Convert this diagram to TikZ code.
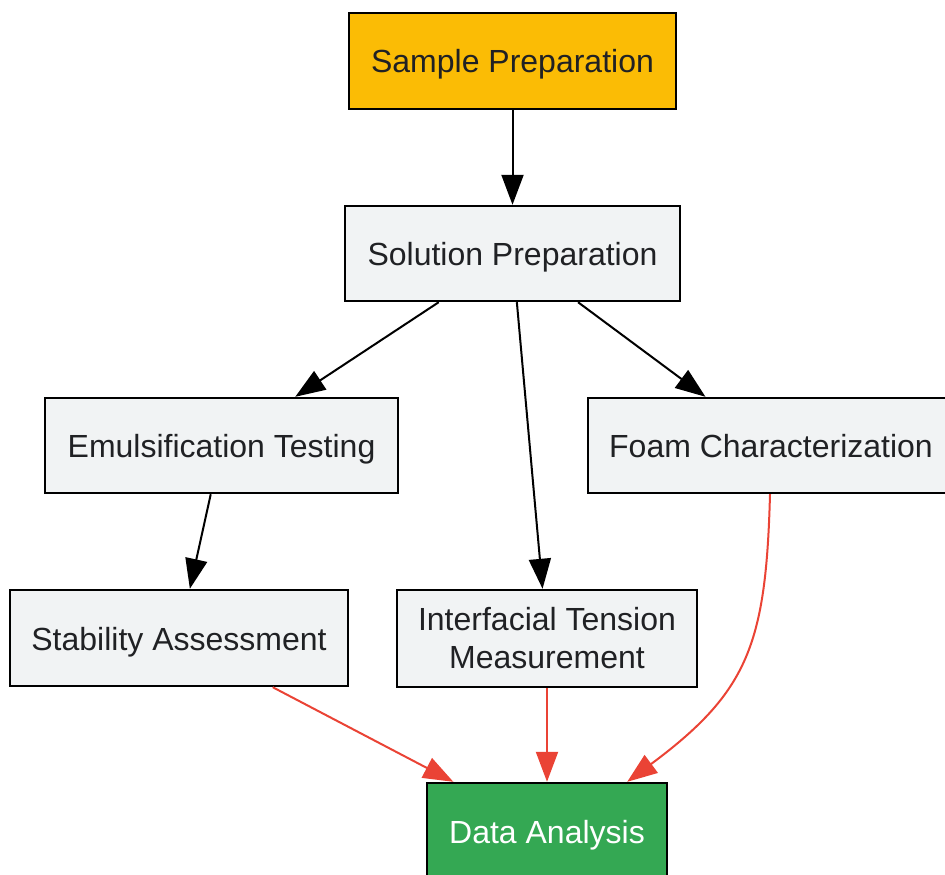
\documentclass[tikz,border=0pt]{standalone}
\usepackage{fontspec}
\setmainfont{Liberation Sans}
\usetikzlibrary{arrows.meta,calc}
\definecolor{gyellow}{HTML}{FBBC05}
\definecolor{ggray}{HTML}{F1F3F4}
\definecolor{ggreen}{HTML}{34A853}
\definecolor{gred}{HTML}{EA4335}
\definecolor{gtext}{HTML}{202124}
\begin{document}
\begin{tikzpicture}[x=1pt,y=-1pt,
  box/.style={draw=black,line width=2.4pt,fill=ggray,text=gtext,font=\fontsize{32}{38}\selectfont,align=center,inner sep=0pt,anchor=center},
  one/.style={text height=24pt,text depth=0pt},
  blk/.style={draw=black,line width=2pt,-{Triangle[length=30pt,width=22pt]}},
  redl/.style={draw=gred,line width=2pt,-{Triangle[length=30pt,width=22pt]},color=gred}]
\useasboundingbox (0,0) rectangle (945,875);
\node[box,one,fill=gyellow,minimum width=327pt,minimum height=96pt] (samp) at (512.5,61) {Sample Preparation};
\node[box,one,minimum width=335pt,minimum height=95pt] (sol) at (512.5,253.5) {Solution Preparation};
\node[box,one,minimum width=353pt,minimum height=95pt] (emul) at (221.5,445.5) {Emulsification Testing};
\node[box,one,minimum width=366pt,minimum height=95pt] (foam) at (771,445.5) {Foam Characterization};
\node[box,one,minimum width=338pt,minimum height=96pt] (stab) at (179,638) {Stability Assessment};
\node[box,minimum width=300pt,minimum height=97pt] (inter) at (547,638.5) {Interfacial Tension\\Measurement};
\node[box,one,fill=ggreen,text=white,minimum width=240pt,minimum height=96pt] (data) at (547,831) {Data Analysis};
\draw[blk] (samp) -- (sol);
\draw[blk] (sol) -- (emul);
\draw[blk] (sol) -- (inter);
\draw[blk] (sol) -- (foam);
\draw[blk] (emul) -- (stab);
\draw[redl] (stab) -- (data);
\draw[redl] (inter) -- (data);
\draw[redl] ($(foam.south)+(-1,0)$) .. controls ($(foam.south)+(-5,150)$) and ($(data.north east)+(80,-90)$) .. ($(data.north east)+(-41,0)$);
\end{tikzpicture}
\end{document}
